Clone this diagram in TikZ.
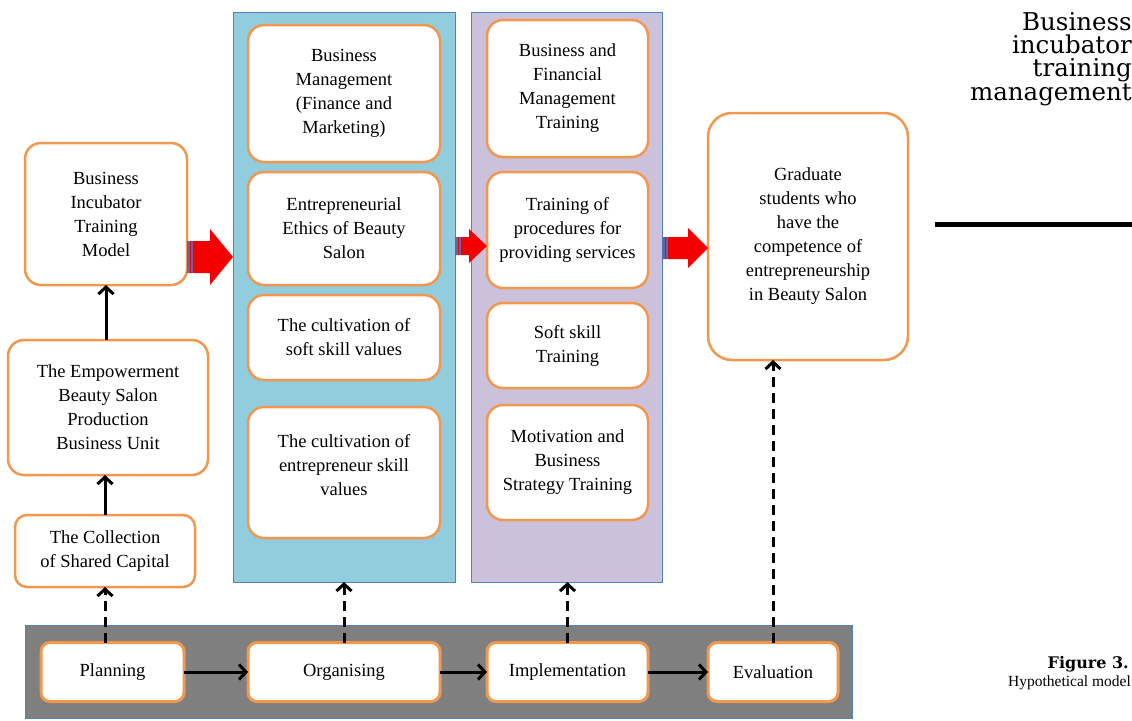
\documentclass[tikz,border=0pt]{standalone}
\usepackage{fontspec}
\setmainfont{Liberation Serif}
\newfontfamily\headfont{DejaVu Serif}
\usetikzlibrary{
    calc,
    arrows.meta,
    positioning,
}
\definecolor{boxorange}{RGB}{241,151,78}
\definecolor{panelblue}{RGB}{146,205,221}
\definecolor{panellilac}{RGB}{204,193,218}
\definecolor{bandgrey}{RGB}{127,127,127}
\definecolor{edgeblue}{RGB}{84,128,188}
\definecolor{arrowred}{RGB}{245,0,0}
\definecolor{tailblue}{RGB}{92,104,170}

% block arrow: tail, tip, shaft half height, head half height, head length
\newcommand{\redarrow}[5]{%
  \fill[arrowred] let \p1=(#1), \p2=(#2) in
    (\x1,\y1+#3) -- (\x2-#5,\y1+#3) -- (\x2-#5,\y1+#4) -- (\x2,\y1)
    -- (\x2-#5,\y1-#4) -- (\x2-#5,\y1-#3) -- (\x1,\y1-#3) -- cycle;
  \fill[tailblue] let \p1=(#1) in (\x1,\y1+#3) rectangle (\x1+6pt,\y1-#3);
  \draw[arrowred, line width=0.8pt] let \p1=(#1) in (\x1+3pt,\y1+#3) -- (\x1+3pt,\y1-#3);
}

\begin{document}
\begin{tikzpicture}[x=1pt, y=-1pt,
    box/.style={draw=boxorange, line width=2.5pt, fill=white, rounded corners=16pt,
        align=center, inner sep=2pt, outer sep=0pt,
        font=\fontsize{18.5}{24}\selectfont},
    stepbox/.style={box, rounded corners=9pt, line width=3pt},
    panel/.style={draw=edgeblue, line width=0.8pt, inner sep=0pt, outer sep=0pt},
    solidarrow/.style={line width=3pt, -{Straight Barb[length=7pt,width=15pt]}},
    dasharrow/.style={solidarrow, dash pattern=on 10pt off 6pt},
]
    \useasboundingbox (0,0) rectangle (1132,720);

    % panels
    \node[panel, fill=panelblue, minimum width=222pt, minimum height=570pt] (blue) at (344,297) {};
    \node[panel, fill=panellilac, minimum width=191pt, minimum height=570pt] (lilac) at (566.5,297) {};
    \node[panel, fill=bandgrey, minimum width=827pt, minimum height=93pt] (band) at (438.5,671.5) {};

    % left column
    \node[box, minimum width=162pt, minimum height=142pt] (bitm) at (106,214) {Business\\Incubator\\Training\\Model};
    \node[box, minimum width=200pt, minimum height=135pt] (empow) at (108,407.5) {The Empowerment\\Beauty Salon\\Production\\Business Unit};
    \node[box, rounded corners=12pt, minimum width=180pt, minimum height=72pt] (collect) at (105,551) {The Collection\\of Shared Capital};

    % organising column
    \node[box, minimum width=192pt, minimum height=137pt] (bm) at (344,93.5) {Business\\Management\\(Finance and\\Marketing)};
    \node[box, minimum width=192pt, minimum height=113pt] (ethics) at (344,228.5) {Entrepreneurial\\Ethics of Beauty\\Salon};
    \node[box, minimum width=192pt, minimum height=85pt] (softval) at (344,337.5) {The cultivation of\\soft skill values};
    \node[box, minimum width=192pt, minimum height=131pt] (entval) at (344,472.5) {The cultivation of\\entrepreneur skill\\values\\[-8pt]};

    % implementation column
    \node[box, minimum width=161pt, minimum height=137pt] (bfm) at (567.5,88.5) {Business and\\Financial\\Management\\Training};
    \node[box, minimum width=161pt, minimum height=116pt] (proc) at (567.5,230) {Training of\\procedures for\\providing services};
    \node[box, minimum width=161pt, minimum height=85pt] (softtr) at (567.5,345.5) {Soft skill\\Training};
    \node[box, minimum width=161pt, minimum height=115pt] (motiv) at (567.5,462.5) {Motivation and\\Business\\Strategy Training};

    % outcome
    \node[box, rounded corners=24pt, minimum width=200pt, minimum height=247pt] (grad) at (808,236.5) {Graduate\\students who\\have the\\competence of\\entrepreneurship\\in Beauty Salon};

    % management steps
    \node[stepbox, minimum width=143pt, minimum height=59pt] (plan) at (112.5,672) {Planning};
    \node[stepbox, minimum width=192pt, minimum height=59pt] (org) at (344,672) {Organising};
    \node[stepbox, minimum width=161pt, minimum height=59pt] (impl) at (567.5,672) {Implementation};
    \node[stepbox, minimum width=130pt, minimum height=59pt] (eval) at (773,672) {Evaluation};

    \draw[solidarrow] (plan) -- (org);
    \draw[solidarrow] (org) -- (impl);
    \draw[solidarrow] (impl) -- (eval);

    \draw[solidarrow] (collect.north) -- (collect.north |- empow.south);
    \draw[solidarrow] (empow.north -| bitm.south) -- (bitm.south);

    \draw[dasharrow] (plan.north -| collect.south) -- (collect.south);
    \draw[dasharrow] (org.north) -- (blue.south);
    \draw[dasharrow] (impl.north) -- (impl.north |- lilac.south);
    \draw[dasharrow] (eval.north) -- (eval.north |- grad.south);

    % block arrows
    \coordinate (r1a) at (bitm.east |- 0,257);
    \coordinate (r1b) at (blue.west |- 0,257);
    \coordinate (r2a) at (blue.east |- 0,246);
    \coordinate (r2b) at (proc.west |- 0,246);
    \coordinate (r3a) at (lilac.east |- 0,248);
    \coordinate (r3b) at (grad.west |- 0,248);
    \redarrow{r1a}{r1b}{16pt}{28pt}{23pt}
    \redarrow{r2a}{r2b}{9pt}{17pt}{18pt}
    \redarrow{r3a}{r3b}{11pt}{20pt}{20pt}

    % running head and caption
    \node[anchor=north east, align=right, inner sep=0pt, font=\headfont\fontsize{24.5}{23.3}\selectfont] (title) at (1132,12) {Business\\incubator\\training\\management};
    \draw[line width=5pt] (935,224) -- (1132,224);
    \node[anchor=south east, align=right, inner sep=0pt, font=\headfont\bfseries\fontsize{16}{16}\selectfont] (fig) at (1129,672) {Figure 3.};
    \node[anchor=north east, inner sep=0pt, font=\fontsize{15.5}{16}\selectfont] (caption) at (1131,676) {Hypothetical model};
\end{tikzpicture}
\end{document}
